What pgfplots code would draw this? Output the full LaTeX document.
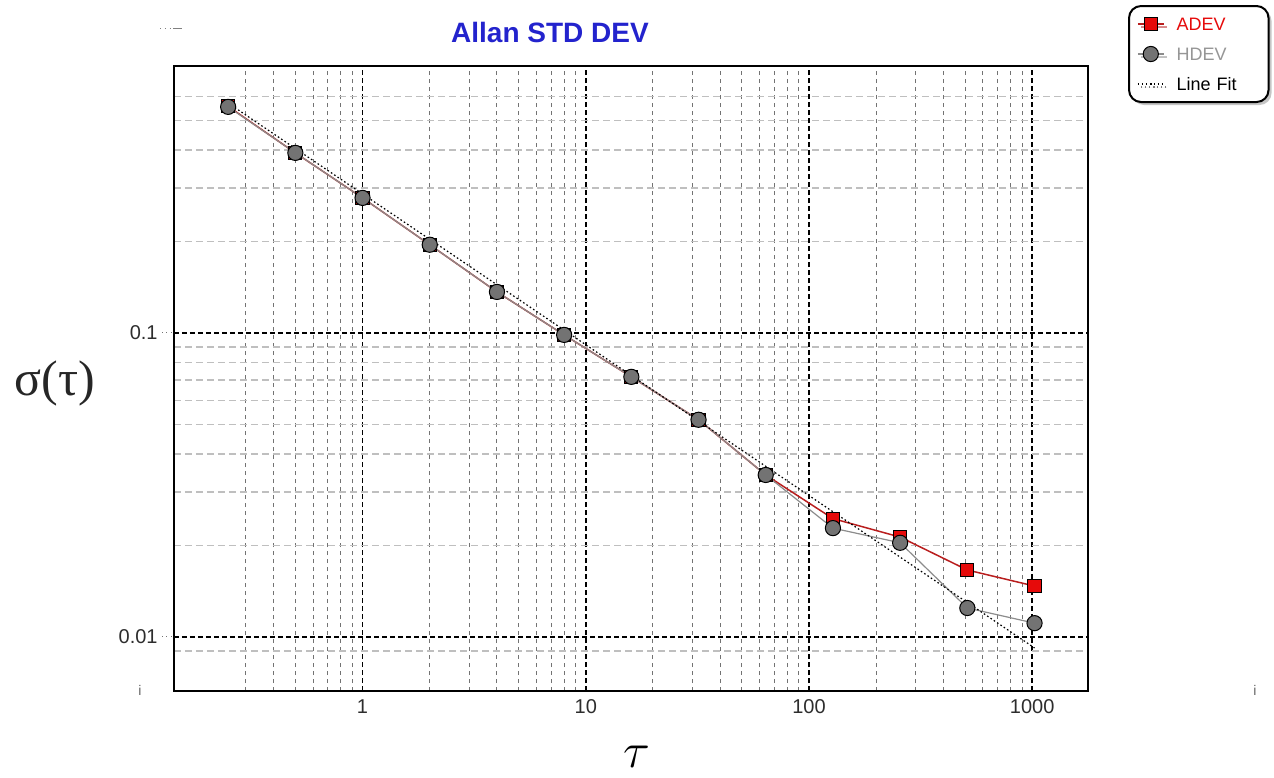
\documentclass[border=0pt]{standalone}
\usepackage{pgfplots}
\pgfplotsset{compat=1.18}
\usepackage{fontspec}
\setmainfont{Liberation Sans}
\newfontfamily\seriffont{Liberation Serif}
\usetikzlibrary{shadows}

\definecolor{titleblue}{RGB}{35,35,205}
\definecolor{adevred}{RGB}{230,10,10}
\definecolor{adevline}{RGB}{185,30,30}
\definecolor{hdevgray}{RGB}{115,115,115}
\definecolor{hdevline}{RGB}{140,140,140}
\definecolor{hdevtext}{RGB}{150,150,150}
\definecolor{ticktext}{RGB}{45,45,45}

% tau, ADEV, HDEV
\pgfplotstableread{
tau    adev    hdev
0.25   0.556   0.554
0.5    0.391   0.391
1      0.278   0.278
2      0.195   0.195
4      0.1364  0.1364
8      0.0985  0.0985
16     0.0717  0.0717
32     0.0518  0.0518
64     0.0341  0.0341
128    0.0245  0.0228
256    0.0213  0.0204
512    0.0166  0.01245
1024   0.0147  0.0111
}\devdata

\begin{document}
\begin{tikzpicture}[x=1pt,y=1pt]
\path[use as bounding box] (0,0) rectangle (637,388.5);
\begin{axis}[
    at={(87pt,43pt)}, anchor=south west,
    scale only axis, width=457pt, height=312.5pt,
    xmode=log, ymode=log,
    xmin=0.143, xmax=1778,
    ymin=0.00664, ymax=0.755,
    xtick={1,10,100,1000}, xticklabels={1,10,100,1000},
    ytick={0.01,0.1}, yticklabels={0.01,0.1},
    minor xtick={0.3,0.4,0.5,0.6,0.7,0.8,0.9,2,3,4,5,6,7,8,9,20,30,40,50,60,70,80,90,200,300,400,500,600,700,800,900},
    minor ytick={0.009,0.02,0.03,0.04,0.05,0.06,0.07,0.08,0.09,0.2,0.3,0.4,0.5,0.6},
    xmajorgrids, ymajorgrids, xminorgrids, yminorgrids,
    major grid style={black, line width=0.8pt, dash pattern=on 2.5pt off 1.5pt},
    minor x grid style={black!55, line width=0.5pt, dash pattern=on 2pt off 2pt},
    minor y grid style={black!25, line width=0.7pt, dash pattern=on 3.5pt off 2pt},
    axis line style={black, line width=1pt},
    tick pos=left,
    tick align=outside,
    major tick length=6pt, minor tick length=0pt,
    xtick style={draw=none},
    ytick style={black!55, dotted, line width=0.5pt},
    ticklabel style={font=\fontsize{10}{12}\selectfont, text=ticktext},
    xticklabel style={inner sep=0pt, yshift=2pt},
    yticklabel style={inner sep=0pt, xshift=-2pt},
    legend style={at={(1.0438,1.0976)}, anchor=north west,
        draw=black, line width=1pt, rounded corners=6pt, fill=white,
        drop shadow={shadow xshift=1.5pt, shadow yshift=-1.5pt, fill=black!45},
        inner sep=4pt, row sep=5pt, column sep=5pt,
        font=\fontsize{9}{10}\selectfont,
        cells={anchor=west},
        nodes={inner sep=1pt, text height=7pt, text depth=1pt, text width=41pt}},
    legend image code/.code={\draw[sharp corners, mark repeat=2, mark phase=2, #1]
        plot coordinates {(0pt,0pt) (6.5pt,0pt) (13pt,0pt)};},
]
\addplot[adevline, line width=0.75pt, sharp corners,
    mark=square*, mark size=3.3pt,
    mark options={fill=adevred, draw=black, line width=0.5pt, solid}]
    table[x=tau, y=adev] {\devdata};
\addlegendentry{\textcolor{adevred}{ADEV}}
\addplot[hdevline, line width=0.6pt, sharp corners,
    mark=*, mark size=3.8pt,
    mark options={fill=hdevgray, draw=black, line width=0.5pt, solid}]
    table[x=tau, y=hdev] {\devdata};
\addlegendentry{\textcolor{hdevtext}{HDEV}}
\addplot[black, line width=0.6pt, dash pattern=on 0.8pt off 1.2pt]
    coordinates {(0.25,0.57) (1024,0.0092)};
\addlegendentry{Line Fit}
\end{axis}
% title and axis labels
\node[font=\bfseries\fontsize{14}{16}\selectfont, text=titleblue] at (275,372.5) {Allan STD DEV};
\node[font=\seriffont\fontsize{25}{28}\selectfont, text=black!85] at (27.5,197) {σ(τ)};
\node[font=\fontsize{24}{26}\selectfont] at (318.5,10) {$\tau$};
% small leftovers of the original screen
\draw[black!50, line width=0.4pt, dotted] (80,374.5) -- (86,374.5);
\draw[black!50, line width=0.4pt] (86.5,374.5) -- (91,374.5);
\node[font=\fontsize{7}{8}\selectfont, text=black!60] at (70,43.5) {i};
\node[font=\fontsize{7}{8}\selectfont, text=black!60] at (627.5,43.5) {i};
\end{tikzpicture}
\end{document}
